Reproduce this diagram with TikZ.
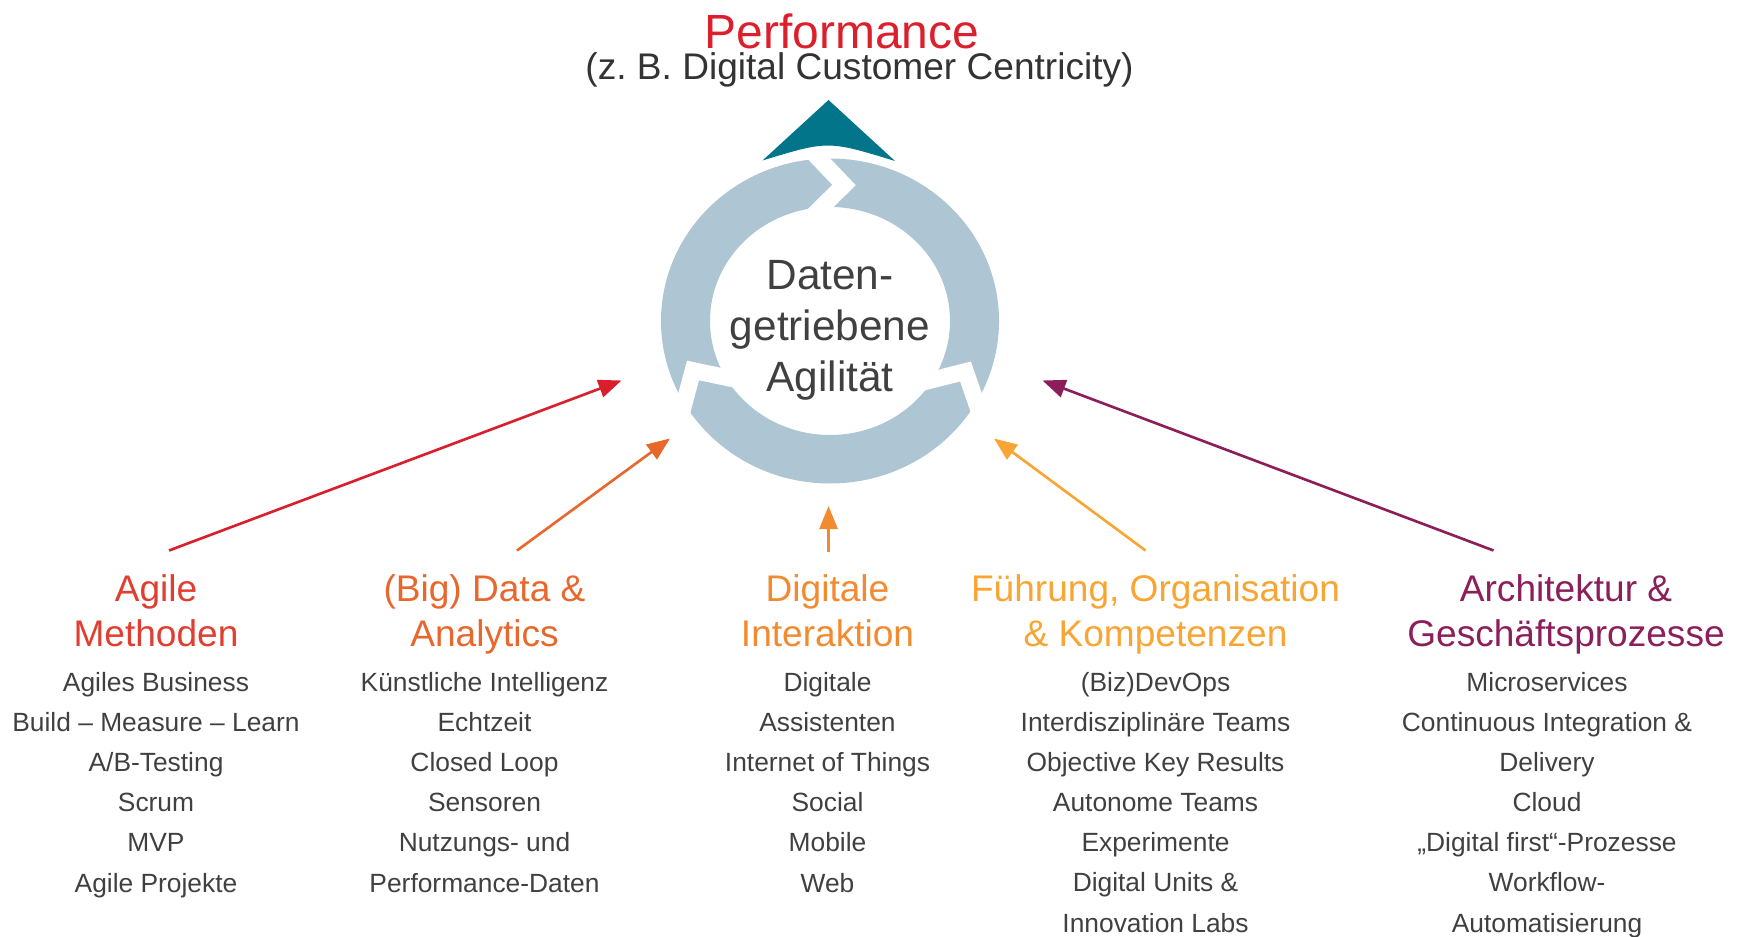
\documentclass[tikz,border=0pt]{standalone}
\usepackage{fontspec}
\setmainfont{Liberation Sans}
\usetikzlibrary{arrows.meta}

\definecolor{perfrot}{HTML}{DC1F2D}
\definecolor{agilrot}{HTML}{E03E31}
\definecolor{pfeilrot}{HTML}{D91E2C}
\definecolor{datenorange}{HTML}{E8672C}
\definecolor{digitalorange}{HTML}{F28A30}
\definecolor{fuehrorange}{HTML}{F8A534}
\definecolor{archlila}{HTML}{8C1F5A}
\definecolor{petrol}{HTML}{03758A}
\definecolor{ringblau}{HTML}{AEC5D3}
\definecolor{textgrau}{HTML}{404040}

\begin{document}
\begin{tikzpicture}[
  kopf/.style={anchor=base,align=center,font=\fontsize{21.1}{25.3}\selectfont},
  liste/.style={anchor=base,align=center,text=textgrau,font=\fontsize{15}{22.8}\selectfont},
  pfeil/.style={line width=1.5pt,-{Triangle[length=4.6mm,width=3.6mm]}},
  spalt/.style={white,line width=9.5pt}]
\useasboundingbox (0,0) rectangle (34.88,18.72);

% Kreis
\fill[ringblau,even odd rule] (16.6,12.3) ellipse [x radius=3.38,y radius=3.25]
  (16.6,12.3) ellipse [x radius=2.4,y radius=2.28];
\draw[spalt] (16.24,15.69) -- (16.88,15.02) -- (16.20,14.35);
\draw[spalt] (13.61,10.38) -- (13.86,11.31) -- (14.91,11.09);
\draw[spalt] (19.62,10.39) -- (19.31,11.29) -- (18.28,11.03);
\fill[petrol] (15.25,15.51) -- (16.57,16.72) -- (17.90,15.50)
  .. controls (16.56,15.91) .. (15.25,15.51) -- cycle;

% Ziel
\node[anchor=base,inner sep=0pt,text=perfrot,font=\fontsize{27.3}{32}\selectfont] (perf) at (16.84,17.74) {Performance};
\node[anchor=base,inner sep=0pt,text=textgrau!80!black,font=\fontsize{21.1}{25.3}\selectfont] (bsp) at (17.19,17.12) {(z.\ B. Digital Customer Centricity)};
\node[anchor=base,align=center,text=textgrau,font=\fontsize{24.1}{28.9}\selectfont] (kern) at (16.6,10.89) {Daten-\\getriebene\\Agilität};

% Themen
\node[kopf,text=agilrot] (agil) at (3.12,5.80) {Agile\\Methoden};
\node[kopf,text=datenorange] (daten) at (9.69,5.80) {(Big) Data \&\\Analytics};
\node[kopf,text=digitalorange] (digital) at (16.55,5.80) {Digitale\\Interaktion};
\node[kopf,text=fuehrorange] (fuehrung) at (23.11,5.80) {Führung, Organisation\\\& Kompetenzen};
\node[kopf,text=archlila] (arch) at (31.32,5.80) {Architektur \&\\Geschäftsprozesse};

\node[liste] (agilliste) at (3.12,0.88) {Agiles Business\\Build -- Measure -- Learn\\A/B-Testing\\Scrum\\MVP\\Agile Projekte};
\node[liste] (datenliste) at (9.69,0.88) {Künstliche Intelligenz\\Echtzeit\\Closed Loop\\Sensoren\\Nutzungs- und\\Performance-Daten};
\node[liste] (digitalliste) at (16.55,0.88) {Digitale\\Assistenten\\Internet of Things\\Social\\Mobile\\Web};
\node[liste] (fuehrliste) at (23.11,0.08) {(Biz)DevOps\\Interdisziplinäre Teams\\Objective Key Results\\Autonome Teams\\Experimente\\Digital Units \&\\Innovation Labs};
\node[liste] (archliste) at (30.94,0.08) {Microservices\\Continuous Integration \&\\Delivery\\Cloud\\„Digital first“-Prozesse\\Workflow-\\Automatisierung};

% Pfeile
\coordinate (a1) at (3.38,7.71);
\coordinate (e1) at (12.43,11.11);
\coordinate (a2) at (10.34,7.71);
\coordinate (e2) at (13.40,9.95);
\coordinate (a3) at (16.57,7.69);
\coordinate (e3) at (16.57,8.60);
\coordinate (a4) at (22.91,7.71);
\coordinate (e4) at (19.88,9.95);
\coordinate (a5) at (29.87,7.71);
\coordinate (e5) at (20.85,11.11);
\draw[pfeil,pfeilrot] (a1) -- (e1);
\draw[pfeil,datenorange] (a2) -- (e2);
\draw[pfeil,digitalorange] (a3) -- (e3);
\draw[pfeil,fuehrorange] (a4) -- (e4);
\draw[pfeil,archlila] (a5) -- (e5);
\end{tikzpicture}
\end{document}
